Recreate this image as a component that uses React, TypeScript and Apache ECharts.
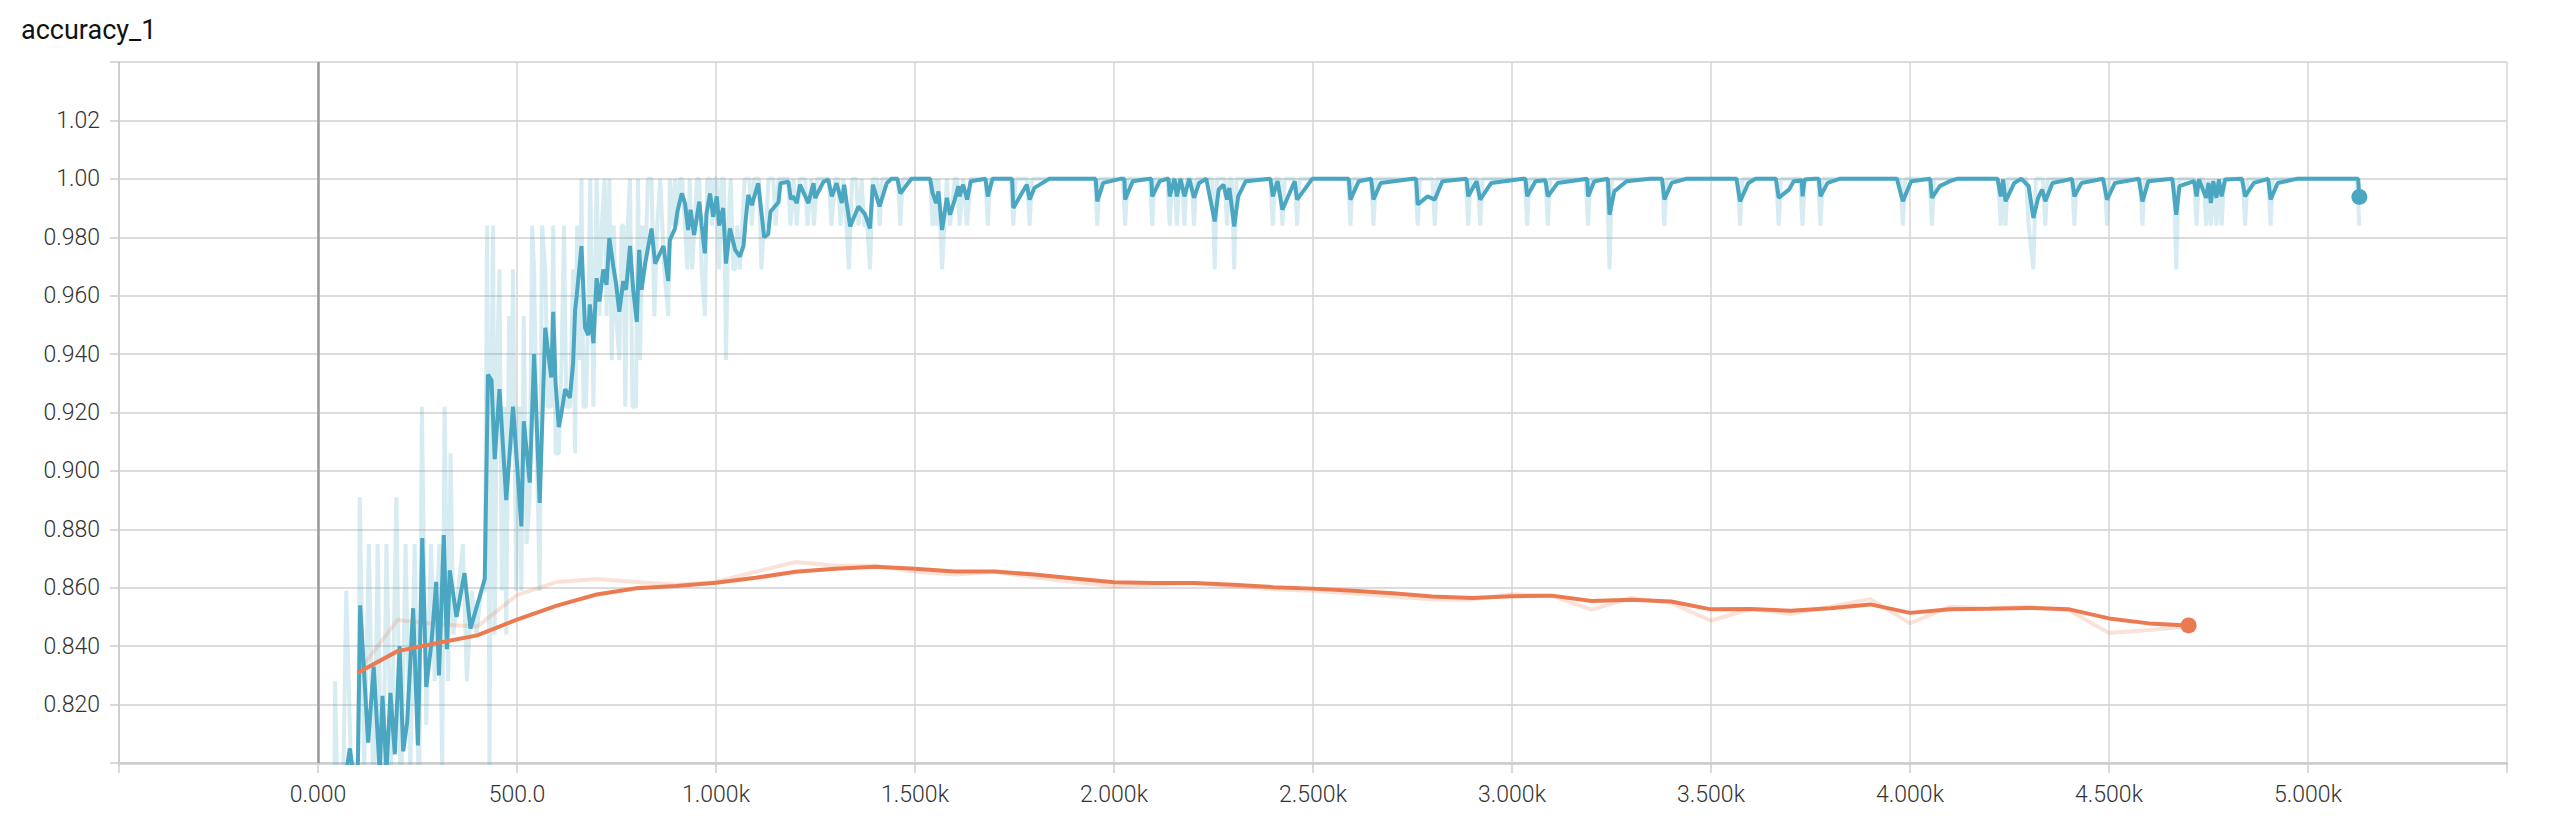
import React, { useEffect, useRef } from "react";
import * as echarts from "echarts";

const TITLE = "accuracy_1";
const X_MIN = -500;
const X_MAX = 5500;
const X_STEP = 500;
const Y_MIN = 0.8;
const Y_MAX = 1.04;
const Y_STEP = 0.02;

const BLUE = "#4ba7c1";
const ORANGE = "#ec7a51";

const ORANGE_STEPS = [
  100, 200, 300, 400, 500, 600, 700, 800, 900, 1000, 1100, 1200, 1300, 1400, 1500, 1600,
  1700, 1800, 1900, 2000, 2100, 2200, 2300, 2400, 2500, 2600, 2700, 2800, 2900, 3000, 3100,
  3200, 3300, 3400, 3500, 3600, 3700, 3800, 3900, 4000, 4100, 4200, 4300, 4400, 4500, 4600, 4700,
];

const ORANGE_RAW = [
  0.831, 0.849, 0.8475, 0.8467, 0.8575, 0.862, 0.863, 0.862, 0.861, 0.862, 0.8655, 0.8688,
  0.8675, 0.8675, 0.8655, 0.8645, 0.8655, 0.8635, 0.862, 0.8605, 0.861, 0.8615, 0.8605, 0.8595,
  0.859, 0.858, 0.857, 0.856, 0.856, 0.8578, 0.8572, 0.8525, 0.8565, 0.8548, 0.8487, 0.8528,
  0.851, 0.8535, 0.8562, 0.8478, 0.8535, 0.853, 0.8535, 0.8522, 0.8445, 0.8455, 0.8468,
];

const ORANGE_SMOOTH = [
  0.8309, 0.8383, 0.8411, 0.8437, 0.8491, 0.8539, 0.8577, 0.8598, 0.8606, 0.8617, 0.8634,
  0.8655, 0.8665, 0.8672, 0.8665, 0.8656, 0.8656, 0.8645, 0.8632, 0.8619, 0.8616, 0.8616,
  0.861, 0.8602, 0.8597, 0.859, 0.8581, 0.857, 0.8565, 0.8571, 0.8573, 0.8555, 0.8559, 0.8553,
  0.8526, 0.8527, 0.8521, 0.853, 0.8543, 0.8514, 0.8526, 0.8528, 0.8531, 0.8526, 0.8495,
  0.8478, 0.8471,
];

const BLUE_RAW: [number, number][] = [
  [40, 0.766], [43, 0.828], [52, 0.766], [62, 0.781], [71, 0.859], [80, 0.813], [90, 0.766],
  [100, 0.781], [105, 0.891], [116, 0.797], [128, 0.875], [140, 0.781], [150, 0.875],
  [161, 0.766], [172, 0.875], [184, 0.797], [197, 0.891], [208, 0.781], [220, 0.875],
  [232, 0.797], [243, 0.875], [254, 0.781], [261, 0.922], [272, 0.813], [284, 0.875],
  [293, 0.828], [305, 0.875], [312, 0.797], [318, 0.922], [327, 0.828], [333, 0.906],
  [340, 0.844], [352, 0.859], [364, 0.875], [374, 0.828], [386, 0.859], [398, 0.844],
  [410, 0.859], [419, 0.859],
  [425, 0.984], [431, 0.797], [436, 0.938], [440, 0.984], [444, 0.844], [450, 0.938],
  [456, 0.969], [462, 0.859], [468, 0.922], [473, 0.844], [480, 0.953], [485, 0.906],
  [490, 0.969], [498, 0.859], [505, 0.922], [511, 0.859], [517, 0.953], [524, 0.875],
  [532, 0.891], [538, 0.984], [543, 0.969], [550, 0.906], [557, 0.859], [563, 0.984],
  [571, 0.969], [578, 0.922], [586, 0.922], [591, 0.984], [597, 0.906], [605, 0.906],
  [612, 0.938], [618, 0.984], [624, 0.922], [633, 0.922], [641, 0.969], [646, 0.906],
  [651, 0.984], [658, 0.938], [662, 1], [667, 0.922], [673, 0.922], [679, 0.953], [684, 1],
  [692, 0.922], [700, 1], [707, 0.953], [713, 0.984], [720, 1], [725, 0.953], [732, 1],
  [738, 0.938], [743, 0.984], [749, 0.953], [757, 0.938], [763, 0.984], [767, 0.984],
  [772, 0.922], [778, 0.984], [784, 1], [790, 0.922], [799, 0.922], [804, 1], [809, 0.938],
  [815, 0.984], [822, 0.969], [829, 1], [838, 1], [845, 0.953], [852, 0.984], [860, 1],
  [870, 0.969], [880, 0.953], [884, 1], [890, 0.984], [897, 1], [903, 0.984], [909, 1],
  [915, 1], [922, 0.984], [928, 0.969], [934, 1], [940, 0.969], [946, 0.984], [952, 1],
  [958, 1], [964, 0.969], [972, 0.953], [978, 1], [985, 1], [990, 0.984], [996, 1],
  [1002, 1], [1008, 0.969], [1014, 1], [1020, 1], [1025, 0.938], [1031, 0.984], [1037, 1],
  [1043, 0.969], [1048, 0.969], [1054, 0.984], [1060, 0.969], [1066, 0.984], [1072, 1],
  [1084, 1], [1090, 0.984], [1096, 1], [1108, 1], [1114, 0.969], [1120, 0.984],
  [1126, 0.984], [1132, 1], [1144, 1], [1150, 0.984], [1157, 1], [1181, 1], [1187, 0.984],
  [1195, 1], [1203, 0.984], [1210, 1], [1224, 1], [1230, 0.984], [1240, 1], [1246, 0.984],
  [1254, 1], [1284, 1], [1290, 0.984], [1300, 1], [1307, 1], [1313, 0.984], [1320, 1],
  [1328, 0.984], [1334, 0.969], [1342, 1], [1352, 1], [1358, 0.984], [1366, 1],
  [1372, 0.984], [1380, 0.984], [1387, 0.969], [1394, 1], [1405, 1],
  [1411, 0.984], [1417, 1], [1457, 1], [1463, 0.984], [1469, 1], [1538, 1], [1544, 0.984],
  [1549, 1], [1553, 0.984], [1559, 1], [1568, 0.969], [1580, 1], [1588, 0.984], [1600, 1],
  [1606, 1], [1612, 0.984], [1621, 1], [1631, 0.984], [1640, 1], [1677, 1], [1683, 0.984],
  [1689, 1], [1741, 1], [1747, 0.984], [1753, 1], [1782, 1], [1788, 0.984], [1794, 1],
  [1952, 1], [1958, 0.984], [1964, 1], [2022, 1], [2028, 0.984], [2034, 1], [2090, 1],
  [2096, 0.984], [2102, 1], [2134, 1], [2140, 0.984], [2146, 1], [2152, 1], [2158, 0.984],
  [2164, 1], [2171, 1], [2177, 0.984], [2183, 1], [2195, 1], [2201, 0.984], [2207, 1],
  [2247, 1], [2253, 0.969], [2259, 1], [2278, 1], [2284, 0.984], [2290, 1], [2296, 1],
  [2302, 0.969], [2308, 1], [2393, 1], [2399, 0.984], [2405, 1], [2417, 1], [2423, 0.984],
  [2429, 1], [2454, 1], [2460, 0.984], [2466, 1], [2588, 1], [2594, 0.984], [2600, 1],
  [2646, 1], [2652, 0.984], [2658, 1], [2757, 1], [2763, 0.984], [2769, 1], [2800, 1],
  [2806, 0.984], [2812, 1], [2884, 1], [2890, 0.984], [2896, 1], [2914, 1], [2920, 0.984],
  [2926, 1], [3032, 1], [3038, 0.984], [3044, 1], [3084, 1], [3090, 0.984], [3096, 1],
  [3185, 1], [3191, 0.984], [3197, 1], [3239, 1], [3245, 0.969], [3251, 1], [3377, 1],
  [3383, 0.984], [3389, 1], [3567, 1], [3573, 0.984], [3579, 1], [3664, 1], [3670, 0.984],
  [3676, 1], [3724, 1], [3730, 0.984], [3736, 1], [3769, 1], [3775, 0.984], [3781, 1],
  [3976, 1], [3982, 0.984], [3988, 1], [4049, 1], [4055, 0.984], [4061, 1], [4222, 1],
  [4228, 0.984], [4234, 1], [4240, 0.984], [4246, 1], [4292, 1], [4298, 0.984],
  [4310, 0.969], [4316, 1], [4334, 1], [4340, 0.984], [4346, 1], [4407, 1], [4413, 0.984],
  [4419, 1], [4489, 1], [4495, 0.984], [4501, 1], [4578, 1], [4584, 0.984], [4590, 1],
  [4663, 1], [4669, 0.969], [4675, 1], [4714, 1], [4720, 0.984], [4726, 1], [4738, 1],
  [4744, 0.984], [4750, 1], [4756, 0.984], [4762, 1], [4770, 0.984], [4776, 1],
  [4783, 0.984], [4789, 1], [4836, 1], [4842, 0.984], [4848, 1], [4900, 1], [4906, 0.984],
  [4912, 1], [5123, 1], [5129, 0.984],
];

const BLUE_SMOOTH: [number, number][] = [
  [40, 0.77], [71, 0.797], [80, 0.805], [88, 0.797], [100, 0.798], [106, 0.854],
  [126, 0.807], [140, 0.833], [155, 0.797], [162, 0.823], [172, 0.797], [182, 0.824],
  [193, 0.803], [205, 0.84], [214, 0.804], [224, 0.814], [239, 0.853], [251, 0.806],
  [262, 0.877], [272, 0.826], [285, 0.841], [297, 0.862], [304, 0.83], [316, 0.878],
  [324, 0.839], [331, 0.866], [348, 0.85], [368, 0.865], [383, 0.846], [419, 0.863],
  [427, 0.933], [436, 0.931], [444, 0.904], [456, 0.928], [473, 0.89], [490, 0.922],
  [511, 0.881], [517, 0.917], [532, 0.896], [543, 0.94], [557, 0.889], [571, 0.949],
  [586, 0.932], [591, 0.9545], [597, 0.93], [605, 0.915], [612, 0.92], [621, 0.928],
  [633, 0.925], [641, 0.937], [646, 0.955], [650, 0.96], [662, 0.977], [671, 0.949],
  [679, 0.9465], [683, 0.957], [692, 0.9437], [700, 0.966], [707, 0.958], [717, 0.969],
  [725, 0.9637], [732, 0.9797], [742, 0.97], [749, 0.964], [757, 0.9545], [767, 0.965],
  [774, 0.962], [784, 0.977], [792, 0.962], [801, 0.951], [807, 0.9757], [813, 0.962],
  [822, 0.971], [838, 0.983], [847, 0.971], [868, 0.977], [880, 0.965], [884, 0.979],
  [897, 0.983], [903, 0.9888], [914, 0.995], [922, 0.9917], [930, 0.9825], [936, 0.9894],
  [945, 0.9808], [958, 0.9922], [964, 0.984], [972, 0.9745], [976, 0.988], [985, 0.995],
  [993, 0.987], [1002, 0.994], [1008, 0.984], [1018, 0.99], [1025, 0.971], [1035, 0.983],
  [1048, 0.9757], [1060, 0.9734], [1069, 0.977], [1075, 0.9865], [1081, 0.9945],
  [1090, 0.991], [1106, 0.9985], [1121, 0.98], [1131, 0.981], [1137, 0.9888], [1157, 0.992],
  [1162, 0.9985], [1182, 0.999], [1188, 0.993], [1194, 0.994], [1203, 0.9917], [1211, 0.998],
  [1232, 0.9917], [1245, 0.9985], [1249, 0.9934], [1270, 0.999], [1282, 0.9997],
  [1291, 0.994], [1303, 0.9985], [1316, 0.9917], [1322, 0.998], [1328, 0.992],
  [1337, 0.9837], [1358, 0.9905], [1374, 0.988], [1387, 0.983], [1394, 0.998],
  [1411, 0.9906], [1429, 0.9985], [1441, 1], [1456, 1], [1463, 0.995], [1491, 1], [1538, 1],
  [1544, 0.9952], [1553, 0.9917], [1559, 0.9957], [1568, 0.9825], [1580, 0.9935],
  [1588, 0.9877], [1600, 0.9929], [1609, 0.9975], [1612, 0.994], [1621, 0.998],
  [1631, 0.9929], [1640, 0.9992], [1677, 1], [1683, 0.994], [1695, 1], [1744, 1],
  [1747, 0.99], [1769, 0.9952], [1781, 0.998], [1788, 0.9929], [1800, 0.9969], [1837, 1],
  [1954, 1], [1958, 0.9923], [1973, 0.9986], [2016, 1], [2026, 1], [2028, 0.9929],
  [2047, 0.9992], [2090, 1], [2094, 1], [2096, 0.994], [2115, 0.9992], [2133, 1], [2137, 1],
  [2140, 0.994], [2152, 1], [2158, 0.994], [2167, 1], [2177, 0.994], [2189, 1],
  [2201, 0.9935], [2214, 0.9986], [2232, 1], [2253, 0.9854], [2263, 0.9963], [2275, 0.998],
  [2284, 0.9929], [2290, 0.9969], [2302, 0.9837], [2312, 0.994], [2331, 0.9992], [2393, 1],
  [2399, 0.994], [2411, 0.9992], [2423, 0.9894], [2454, 0.9992], [2460, 0.9929], [2498, 1],
  [2590, 1], [2594, 0.9929], [2615, 0.9992], [2646, 1], [2652, 0.9929], [2670, 0.9986],
  [2751, 1], [2759, 1], [2763, 0.9912], [2788, 0.994], [2806, 0.9929], [2825, 0.9992],
  [2886, 1], [2890, 0.994], [2911, 0.9992], [2920, 0.9929], [2948, 0.9986], [3028, 1],
  [3034, 1], [3038, 0.994], [3059, 0.9992], [3084, 0.9995], [3090, 0.994], [3115, 0.9986],
  [3189, 1], [3191, 0.994], [3207, 0.9992], [3241, 1], [3245, 0.9877], [3257, 0.9957],
  [3288, 0.9992], [3347, 1], [3377, 1], [3383, 0.9929], [3401, 0.9986], [3437, 1],
  [3564, 1], [3573, 0.9923], [3594, 0.9986], [3612, 1], [3663, 1], [3670, 0.9935],
  [3696, 0.9963], [3708, 0.9992], [3728, 0.9995], [3730, 0.994], [3735, 0.9998], [3762, 1],
  [3771, 1], [3775, 0.994], [3793, 0.9986], [3823, 1], [3967, 1], [3982, 0.9923],
  [4003, 0.9992], [4051, 1], [4055, 0.9935], [4075, 0.9975], [4100, 0.9992], [4118, 1],
  [4220, 1], [4228, 0.994], [4234, 0.9998], [4240, 0.9923], [4262, 0.9986], [4280, 1],
  [4298, 0.9975], [4310, 0.9866], [4322, 0.9935], [4332, 0.9963], [4340, 0.9923],
  [4358, 0.9986], [4407, 1], [4413, 0.994], [4431, 0.9986], [4485, 1], [4495, 0.9929],
  [4515, 0.9986], [4575, 1], [4584, 0.9923], [4599, 0.9992], [4659, 1], [4669, 0.9877],
  [4677, 0.9975], [4714, 0.9992], [4720, 0.994], [4726, 0.9998], [4744, 0.9935],
  [4750, 0.9986], [4756, 0.9917], [4762, 0.9992], [4770, 0.9935], [4776, 0.9998],
  [4783, 0.994], [4792, 0.9998], [4834, 1], [4842, 0.994], [4864, 0.9986], [4900, 1],
  [4906, 0.9929], [4924, 0.9986], [4972, 1], [5126, 1], [5129, 0.9938],
];

const FONT = "Roboto, 'Liberation Sans', Arial, sans-serif";

function fmtX(v: number): string {
  if (v <= X_MIN + 1e-9 || v >= X_MAX - 1e-9) return "";
  if (Math.abs(v) < 1e-9) return "0.000";
  if (Math.abs(v) >= 1000) return (v / 1000).toPrecision(4) + "k";
  return v.toPrecision(4);
}

function fmtY(v: number): string {
  if (v <= Y_MIN + 1e-6 || v >= Y_MAX - 1e-6) return "";
  return v.toPrecision(3);
}

export default function App() {
  const ref = useRef<HTMLDivElement>(null);

  useEffect(() => {
    if (!ref.current) return;
    const chart = echarts.init(ref.current, undefined, { renderer: "svg" });
    const orangeRaw = ORANGE_STEPS.map((s, i) => [s, ORANGE_RAW[i]]);
    const orangeSmooth = ORANGE_STEPS.map((s, i) => [s, ORANGE_SMOOTH[i]]);
    const lastBlue = BLUE_SMOOTH[BLUE_SMOOTH.length - 1];
    const lastOrange = orangeSmooth[orangeSmooth.length - 1];

    chart.setOption({
      animation: false,
      backgroundColor: "#ffffff",
      title: {
        text: TITLE,
        left: 16,
        top: 11,
        textStyle: { fontFamily: FONT, fontSize: 27, fontWeight: "normal", color: "#111111" },
      },
      grid: { left: 119, right: 43, top: 62, bottom: 53, containLabel: false },
      xAxis: {
        type: "value",
        min: X_MIN,
        max: X_MAX,
        interval: X_STEP,
        axisLine: { show: true, onZero: false, lineStyle: { color: "#cccccc", width: 2.5 } },
        axisTick: { show: true, length: 10, lineStyle: { color: "#cccccc", width: 1.5 } },
        axisLabel: {
          formatter: fmtX,
          margin: 20,
          fontSize: 23,
          fontFamily: FONT,
          fontWeight: 300,
          color: "#333333",
        },
        splitLine: { show: true, lineStyle: { color: "#d6d6d6", width: 1.5 } },
      },
      yAxis: {
        type: "value",
        min: Y_MIN,
        max: Y_MAX,
        interval: Y_STEP,
        axisLine: { show: true, onZero: false, lineStyle: { color: "#c8c8c8", width: 1.5 } },
        axisTick: { show: true, length: 9, lineStyle: { color: "#cccccc", width: 1.5 } },
        axisLabel: {
          formatter: fmtY,
          margin: 19,
          fontSize: 23,
          fontFamily: FONT,
          fontWeight: 300,
          color: "#333333",
        },
        splitLine: { show: true, lineStyle: { color: "#d0d0d0", width: 1.5 } },
      },
      series: [
        {
          type: "line",
          name: "blue raw",
          data: BLUE_RAW,
          showSymbol: false,
          symbol: "none",
          clip: true,
          lineStyle: { color: BLUE, opacity: 0.22, width: 4 },
          z: 2,
          markLine: {
            silent: true,
            symbol: ["none", "none"],
            label: { show: false },
            lineStyle: { color: "#9a9a9a", width: 2.5, type: "solid" },
            data: [{ xAxis: 0 }],
          },
        },
        {
          type: "line",
          name: "orange raw",
          data: orangeRaw,
          showSymbol: false,
          symbol: "none",
          clip: true,
          lineStyle: { color: ORANGE, opacity: 0.22, width: 4 },
          z: 3,
        },
        {
          type: "line",
          name: "blue smooth",
          data: BLUE_SMOOTH,
          showSymbol: false,
          symbol: "none",
          clip: true,
          lineStyle: { color: BLUE, width: 4 },
          z: 4,
        },
        {
          type: "line",
          name: "orange smooth",
          data: orangeSmooth,
          showSymbol: false,
          symbol: "none",
          clip: true,
          lineStyle: { color: ORANGE, width: 4 },
          z: 5,
        },
        {
          type: "scatter",
          name: "ends",
          data: [
            { value: lastBlue, itemStyle: { color: BLUE, opacity: 1 } },
            { value: lastOrange, itemStyle: { color: ORANGE, opacity: 1 } },
          ],
          symbolSize: 16,
          itemStyle: { opacity: 1 },
          z: 6,
        },
      ],
    });

    return () => {
      chart.dispose();
    };
  }, []);

  return (
    <div
      ref={ref}
      style={{ position: "fixed", left: 0, top: 0, width: 2550, height: 816, background: "#fff" }}
    />
  );
}
